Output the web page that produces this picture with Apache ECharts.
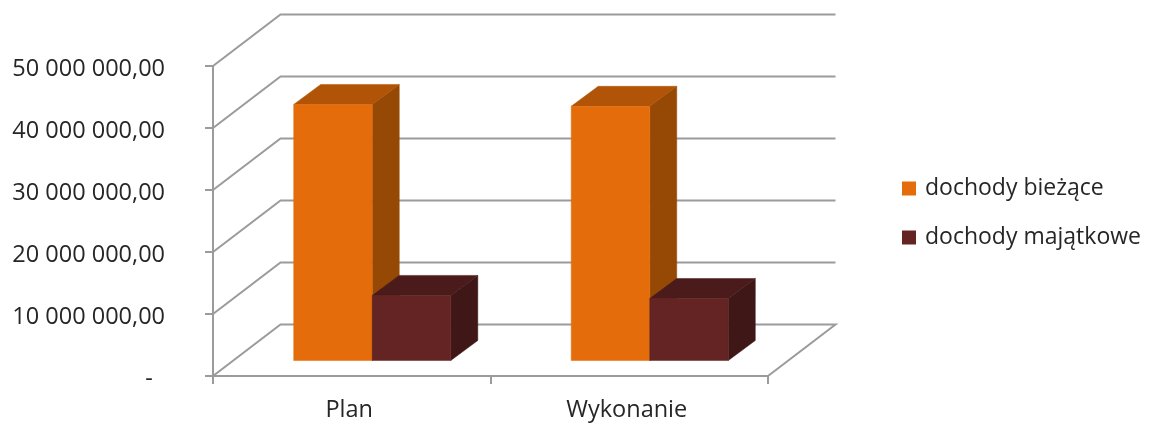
<!DOCTYPE html>
<html>
<head>
<meta charset="utf-8">
<style>html,body{margin:0;padding:0;background:#fff}#c{width:1149px;height:423px}</style>
<script src="https://cdn.jsdelivr.net/npm/echarts@6/dist/echarts.min.js"></script>
</head>
<body>
<div id="c"></div>
<script>
const categories = ['Plan', 'Wykonanie'];
const biezace = [41300000, 41000000];
const majatkowe = [10500000, 10000000];
const yTicks = [0, 10000000, 20000000, 30000000, 40000000, 50000000];
const seriesNames = ['dochody bieżące', 'dochody majątkowe'];

const FONT = 'Open Sans';
const WALL = [67.5, -51.5];      // perspective depth of the box
const BAR_FRONT = [20.5, -15.5]; // where the bar front stands in the box
const BAR_DEPTH = [27, -20];
const BAR_RATIO = 0.283;
const LINE = '#9b9b9b';

function fmt(v) {
  if (v === 0) return '{a|-  }';
  return '{a|' + String(v).replace(/\B(?=(\d{3})+$)/g, ' ') + ',00}';
}

function wallItem(params, api) {
  const cs = params.coordSys;
  const y = api.coord([0, api.value(1)])[1];
  const pts = [[cs.x, y], [cs.x + WALL[0], y + WALL[1]], [cs.x + cs.width + WALL[0], y + WALL[1]]];
  if (api.value(1) === 0) pts.push([cs.x + cs.width, y]);
  return { type: 'polyline', shape: { points: pts },
    style: { fill: null, stroke: LINE, lineWidth: 2 } };
}

function barItem(slot, colors) {
  return function (params, api) {
    const cat = api.value(0);
    const top = api.coord([cat, api.value(1)]);
    const base = api.coord([cat, 0]);
    const w = api.size([1, 0])[0] * BAR_RATIO;
    const x0 = top[0] + BAR_FRONT[0] + (slot - 1) * w;
    const x1 = x0 + w;
    const yT = top[1] + BAR_FRONT[1];
    const yB = base[1] + BAR_FRONT[1];
    const dx = BAR_DEPTH[0], dy = BAR_DEPTH[1];
    const poly = (points, fill) => ({ type: 'polygon', shape: { points }, style: { fill, stroke: fill, lineWidth: 0.5 } });
    return { type: 'group', children: [
      poly([[x1, yT], [x1 + dx, yT + dy], [x1 + dx, yB + dy], [x1, yB]], colors.side),
      poly([[x0, yT], [x0 + dx, yT + dy], [x1 + dx, yT + dy], [x1, yT]], colors.top),
      poly([[x0, yT], [x1, yT], [x1, yB], [x0, yB]], colors.front)
    ] };
  };
}

const chart = echarts.init(document.getElementById('c'), null, { renderer: 'canvas' });
chart.setOption({
  animation: false,
  backgroundColor: '#fff',
  grid: { left: 213, top: 66, width: 555, height: 310, containLabel: false, outerBoundsMode: 'none' },
  legend: {
    orient: 'vertical', left: 897, top: 172, icon: 'rect',
    itemWidth: 14, itemHeight: 14, itemGap: 26,
    data: seriesNames,
    textStyle: { fontFamily: FONT, fontSize: 23, color: '#262626', padding: [0, 0, 0, 4] }
  },
  xAxis: {
    type: 'category', data: categories,
    axisLine: { show: true, lineStyle: { color: LINE, width: 2 } },
    axisTick: { show: true, length: 8, lineStyle: { color: LINE, width: 2 } },
    axisLabel: { fontFamily: FONT, fontSize: 23.5, color: '#262626', margin: 22, padding: [0, 5, 0, 0] }
  },
  yAxis: {
    type: 'value', min: 0, max: 50000000, interval: 10000000,
    splitLine: { show: false },
    axisLine: { show: true, lineStyle: { color: LINE, width: 2 } },
    axisTick: { show: true, length: 8, lineStyle: { color: LINE, width: 2 } },
    axisLabel: { margin: 48, formatter: fmt,
      rich: { a: { fontFamily: FONT, fontSize: 23.5, color: '#262626', padding: [6, 0, 0, 0] } } }
  },
  series: [
    { type: 'custom', name: 'wall', silent: true, clip: false, z: 1,
      renderItem: wallItem, data: yTicks.map(v => [0, v]) },
    { type: 'custom', name: seriesNames[0], clip: false, z: 2,
      itemStyle: { color: '#E46C0A' },
      renderItem: barItem(0, { front: '#E46C0A', top: '#B15407', side: '#964805' }),
      data: biezace.map((v, i) => [i, v]) },
    { type: 'custom', name: seriesNames[1], clip: false, z: 3,
      itemStyle: { color: '#632423' },
      renderItem: barItem(1, { front: '#632423', top: '#4A1B1A', side: '#3F1716' }),
      data: majatkowe.map((v, i) => [i, v]) }
  ]
});
</script>
</body>
</html>
